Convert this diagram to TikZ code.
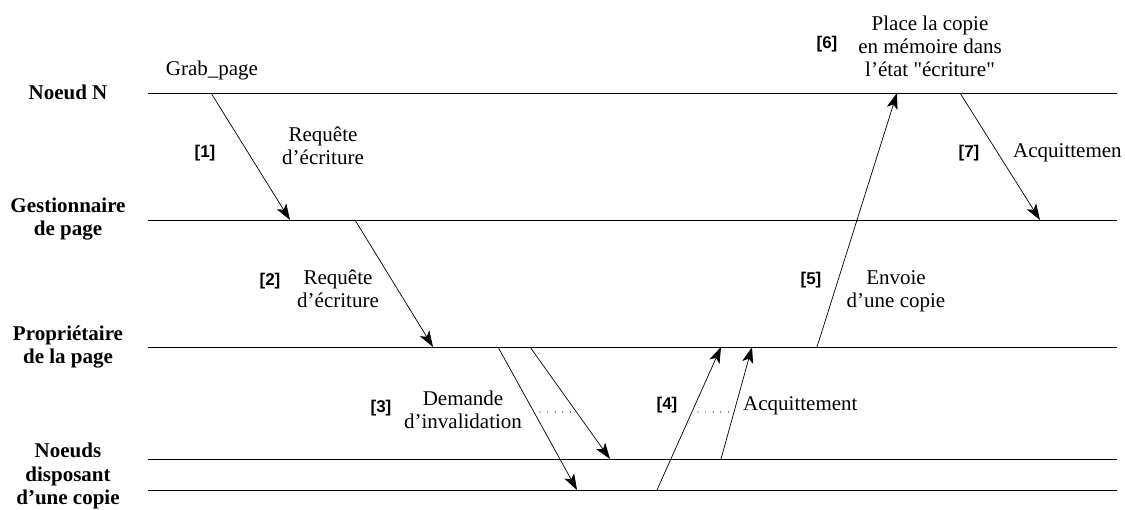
\documentclass[tikz,border=0pt]{standalone}
\usepackage{fontspec}
\setmainfont{Liberation Serif}[Ligatures=TeXOff]
\newfontfamily\tagfont{Liberation Sans}
\usetikzlibrary{arrows.meta}

\begin{document}
\begin{tikzpicture}[x=1pt,y=-1pt,
  lane/.style={line width=0.9pt},
  msg/.style={line width=0.7pt,-{Stealth[length=16pt,width=11pt,inset=4pt]}},
  actor/.style={font=\fontsize{21}{23.5}\selectfont\bfseries, align=center, inner sep=0pt},
  txt/.style={font=\fontsize{21}{23}\selectfont, align=center, inner sep=0pt},
  tag/.style={font=\tagfont\bfseries\fontsize{17}{19}\selectfont, inner sep=0pt},
  dotline/.style={line width=1.2pt, line cap=round, dash pattern=on 0pt off 7.6pt}]

\useasboundingbox (0,0) rectangle (1125,510);

% time lines of the participants
\coordinate (nW) at (148,93);   \coordinate (nE) at (1117,93);
\coordinate (gW) at (148,220);  \coordinate (gE) at (1117,220);
\coordinate (pW) at (148,347);  \coordinate (pE) at (1117,347);
\coordinate (c1W) at (148,459); \coordinate (c1E) at (1117,459);
\coordinate (c2W) at (148,490); \coordinate (c2E) at (1117,490);
\draw[lane] (nW) -- (nE);
\draw[lane] (gW) -- (gE);
\draw[lane] (pW) -- (pE);
\draw[lane] (c1W) -- (c1E);
\draw[lane] (c2W) -- (c2E);

% participant names
\node[actor] (aN) at (68,92) {Noeud N};
\node[actor] (aG) at (68,219) {Gestionnaire\\de page};
\node[actor] (aP) at (68,347) {Propriétaire\\de la page};
\node[actor] (aC) at (68,476) {Noeuds\\disposant\\d’une copie};

% message end points
\coordinate (m1s) at (211,93);  \coordinate (m1e) at (290,220);
\coordinate (m2s) at (355,220); \coordinate (m2e) at (433,347);
\coordinate (m3as) at (498,347); \coordinate (m3ae) at (577,490);
\coordinate (m3bs) at (530,347); \coordinate (m3be) at (610,459);
\coordinate (m4as) at (657,490); \coordinate (m4ae) at (721,347);
\coordinate (m4bs) at (721,459); \coordinate (m4be) at (752,347);
\coordinate (m5s) at (817,347); \coordinate (m5e) at (897,93);
\coordinate (m7s) at (960,93);  \coordinate (m7e) at (1040,220);

\draw[msg] (m1s) -- (m1e);
\draw[msg] (m2s) -- (m2e);
\draw[msg] (m3as) -- (m3ae);
\draw[msg] (m3bs) -- (m3be);
\draw[msg] (m4as) -- (m4ae);
\draw[msg] (m4bs) -- (m4be);
\draw[msg] (m5s) -- (m5e);
\draw[msg] (m7s) -- (m7e);

% dotted hints of further copies
\coordinate (d1a) at (540,412); \coordinate (d1b) at (571,412);
\coordinate (d2a) at (698,412); \coordinate (d2b) at (729,412);
\draw[dotline] (d1a) -- (d1b);
\draw[dotline] (d2a) -- (d2b);

% message texts
\node[txt] (tGrab) at (212,70) {Grab\_page};
\node[tag] (k1) at (205,153) {[1]};
\node[txt] (t1) at (323,146) {Requête\\d’écriture};
\node[tag] (k2) at (270,281) {[2]};
\node[txt] (t2) at (338,289) {Requête\\d’écriture};
\node[tag] (k3) at (381,408) {[3]};
\node[txt] (t3) at (463,410) {Demande\\d’invalidation};
\node[tag] (k4) at (667,405) {[4]};
\node[txt, anchor=west] (t4) at (743,406) {Acquittement};
\node[tag] (k5) at (811,280) {[5]};
\node[txt] (t5) at (896,291) {Envoie\\d’une copie};
\node[tag] (k6) at (827,44) {[6]};
\node[txt] (t6) at (930,46) {Place la copie\\en mémoire dans\\l’état "écriture"};
\node[tag] (k7) at (969,153) {[7]};
\node[txt, anchor=west] (t7) at (1013,153) {Acquittemen};
\end{tikzpicture}
\end{document}
